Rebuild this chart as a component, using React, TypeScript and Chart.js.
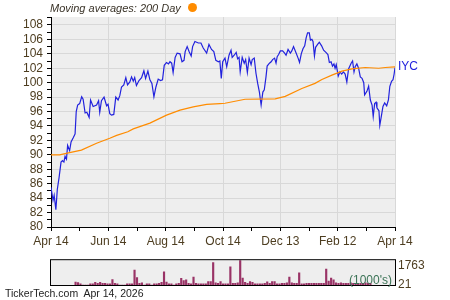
import React, { useEffect, useRef } from "react";
import { Chart, registerables } from "chart.js";

Chart.register(...registerables);

const FONT = "'Liberation Sans', Arial, sans-serif";
const TICK_COLOR = "#4d3d20";
const PRICE_COLOR = "#2222dd";
const MA_COLOR = "#ff8c00";
const VOLUME_COLOR = "#993366";

const symbol = "IYC";
const titleText = "Moving averages: 200 Day";
const footerText = "TickerTech.com  Apr 14, 2026";
const volumeUnitText = "(1000's)";

// x axis: months from the start (0 = Apr 14, 12 = Apr 14 next year)
const xTickLabels = ["Apr 14", "", "Jun 14", "", "Aug 14", "", "Oct 14", "", "Dec 13", "", "Feb 12", "", "Apr 14"];
const yTickValues = [80, 81, 82, 83, 84, 85, 86, 87, 88, 89, 90, 91, 92, 93, 94, 95, 96, 97, 98, 99, 100, 101, 102, 103, 104, 105, 106, 107, 108, 109];
const yMin = 80;
const yMax = 109.1;

const priceMonths = [
  0, 0.07, 0.11, 0.17, 0.22, 0.28, 0.35, 0.4, 0.45, 0.49,
  0.54, 0.58, 0.65, 0.7, 0.78, 0.84, 0.88, 0.93, 1.0, 1.07,
  1.12, 1.19, 1.25, 1.33, 1.38, 1.47, 1.59, 1.66, 1.7, 1.76,
  1.85, 1.94, 1.99, 2.05, 2.11, 2.19, 2.26, 2.34, 2.4, 2.46,
  2.54, 2.61, 2.67, 2.75, 2.81, 2.87, 2.92, 2.98, 3.07, 3.16,
  3.24, 3.3, 3.38, 3.45, 3.52, 3.59, 3.66, 3.74, 3.82, 3.89,
  3.95, 4.03, 4.1, 4.15, 4.21, 4.26, 4.33, 4.4, 4.5, 4.57,
  4.64, 4.68, 4.75, 4.82, 4.89, 4.94, 5.02, 5.14, 5.23, 5.31,
  5.43, 5.51, 5.6, 5.68, 5.75, 5.84, 5.89, 5.94, 5.99, 6.07,
  6.13, 6.21, 6.28, 6.32, 6.39, 6.46, 6.51, 6.56, 6.6, 6.67,
  6.74, 6.79, 6.85, 6.91, 6.98, 7.02, 7.09, 7.15, 7.21, 7.27,
  7.33, 7.39, 7.44, 7.5, 7.54, 7.62, 7.68, 7.73, 7.8, 7.85,
  7.89, 7.94, 8.0, 8.08, 8.15, 8.2, 8.27, 8.35, 8.4, 8.46,
  8.55, 8.62, 8.67, 8.73, 8.79, 8.85, 8.9, 8.95, 9.01, 9.05,
  9.1, 9.14, 9.19, 9.23, 9.3, 9.36, 9.44, 9.51, 9.59, 9.66,
  9.71, 9.77, 9.82, 9.87, 9.91, 9.95, 10.02, 10.08, 10.14, 10.2,
  10.26, 10.32, 10.38, 10.47, 10.52, 10.57, 10.61, 10.67, 10.73, 10.79,
  10.85, 10.91, 10.94, 11.02, 11.08, 11.14, 11.2, 11.24, 11.29, 11.34,
  11.37, 11.44, 11.47, 11.53, 11.58, 11.64, 11.71, 11.77, 11.82, 11.88,
  11.93, 11.97, 12.0,
];

const priceValues = [
  85.5, 83.7, 84.4, 82.4, 85.2, 86.8, 89.0, 89.2, 89.0, 89.8,
  89.4, 91.3, 90.6, 91.8, 92.4, 92.9, 96.0, 96.9, 97.1, 98.05,
  97.7, 95.8, 95.9, 95.2, 97.6, 96.7, 96.9, 97.5, 95.9, 97.5,
  98.0, 96.8, 97.0, 95.7, 95.5, 95.6, 98.0, 97.6, 98.2, 99.4,
  99.7, 100.7, 99.7, 100.1, 100.8, 100.2, 100.7, 99.6, 100.3, 100.7,
  101.65, 100.6, 101.6, 100.4, 99.9, 98.05, 99.4, 100.5, 100.3, 100.4,
  102.4, 102.8, 102.6, 102.9, 102.7, 101.4, 103.5, 104.1, 104.0, 102.9,
  103.1, 104.3, 105.0, 104.3, 103.7, 105.0, 105.7, 105.5, 105.5, 104.8,
  104.1, 105.3, 104.6, 104.3, 103.1, 102.9, 103.0, 100.6, 102.9, 103.4,
  102.2, 103.8, 104.5, 103.5, 103.8, 104.2, 103.3, 103.5, 101.5, 103.5,
  102.7, 103.2, 101.4, 103.4, 102.5, 103.2, 103.4, 101.3, 99.9, 98.7,
  96.9, 98.7, 99.0, 100.8, 102.3, 102.7, 102.9, 103.2, 103.4, 102.7,
  103.6, 103.9, 104.4, 104.4, 104.1, 103.8, 104.6, 104.1, 104.4, 105.0,
  104.1, 103.4, 102.8, 104.0, 104.7, 105.1, 106.2, 106.9, 106.9, 105.9,
  106.0, 105.7, 103.7, 104.9, 105.3, 105.6, 105.1, 104.5, 104.2, 103.9,
  102.8, 102.9, 102.3, 102.6, 102.0, 102.5, 100.9, 101.5, 101.2, 101.5,
  101.2, 100.1, 101.9, 102.7, 103.0, 101.5, 102.2, 102.6, 102.0, 100.8,
  100.6, 100.0, 98.3, 98.8, 99.5, 97.6, 96.9, 95.3, 97.1, 97.3,
  96.5, 96.1, 94.1, 95.5, 96.7, 97.2, 96.8, 97.6, 99.5, 100.2,
  100.4, 101.2, 102.1,
];

const maMonths = [0, 0.3, 0.65, 1.06, 1.59, 2.05, 2.29, 2.68, 2.87, 3.45, 4.03, 4.5, 4.96, 5.43, 5.89, 6.07, 6.77, 7.82, 8.17, 8.75, 9.21, 9.45, 9.8, 10.15, 10.5, 10.96, 11.43, 11.66, 12];
const maValues = [90.0, 90.0, 90.3, 90.65, 91.6, 92.3, 92.7, 93.2, 93.6, 94.4, 95.5, 96.2, 96.65, 97.0, 97.1, 97.15, 97.7, 97.75, 98.1, 99.2, 99.9, 100.45, 101.05, 101.6, 101.9, 102.1, 102.0, 102.1, 102.2];

// volume (1000's), one bar per tenth of a month
const volumeValues = [
  260, 230, 110, 0, 0, 0, 110, 110, 240, 160,
  240, 160, 160, 110, 110, 500, 150, 110, 0, 0,
  0, 110, 110, 110, 1370, 690, 160, 210, 0, 110,
  110, 0, 110, 110, 160, 240, 1210, 260, 110, 110,
  0, 110, 160, 610, 420, 470, 160, 110, 730, 160,
  110, 110, 110, 110, 320, 320, 2080, 200, 150, 320,
  110, 110, 110, 1685, 160, 160, 200, 2500, 630, 240,
  160, 320, 240, 110, 110, 110, 110, 160, 290, 160,
  320, 320, 110, 110, 160, 160, 200, 730, 210, 160,
  160, 1130, 110, 110, 160, 160, 160, 160, 160, 160,
  160, 160, 1477, 370, 630, 470, 200, 160, 200, 160,
  160, 160, 200, 160, 160, 160, 160, 160, 200, 160,
  160,
];
const volumeTickValues = [21, 1763];
const volumeMax = 2293;

export default function App() {
  const mainRef = useRef<HTMLCanvasElement>(null);
  const volRef = useRef<HTMLCanvasElement>(null);

  useEffect(() => {
    document.body.style.margin = "0";
    const tickFont = { family: FONT, size: 12 };

    const plotBg = {
      id: "plotBg",
      beforeDraw(chart: any) {
        const { ctx, chartArea: a } = chart;
        ctx.save();
        ctx.fillStyle = "#eeeeee";
        ctx.fillRect(a.left, a.top, a.right - a.left, a.bottom - a.top);
        ctx.restore();
      },
    };

    const symbolLabel = {
      id: "symbolLabel",
      afterDatasetsDraw(chart: any) {
        const { ctx, chartArea: a } = chart;
        const y = chart.scales.y.getPixelForValue(priceValues[priceValues.length - 1]);
        ctx.save();
        ctx.fillStyle = PRICE_COLOR;
        ctx.font = `12px ${FONT}`;
        ctx.textBaseline = "middle";
        ctx.textAlign = "left";
        ctx.fillText(symbol, a.right + 3, y - 1);
        ctx.restore();
      },
    };

    const main = new Chart(mainRef.current!, {
      type: "line",
      data: {
        datasets: [
          {
            data: maMonths.map((x, i) => ({ x, y: maValues[i] })),
            borderColor: MA_COLOR,
            borderWidth: 1.2,
            pointRadius: 0,
            tension: 0,
          },
          {
            data: priceMonths.map((x, i) => ({ x, y: priceValues[i] })),
            borderColor: PRICE_COLOR,
            borderWidth: 1.2,
            pointRadius: 0,
            tension: 0,
          },
        ],
      },
      options: {
        animation: false,
        responsive: false,
        maintainAspectRatio: false,
        layout: { padding: { top: 17, right: 55, left: 0, bottom: 0 } },
        plugins: { legend: { display: false }, tooltip: { enabled: false } },
        scales: {
          x: {
            type: "linear",
            min: 0,
            max: 12,
            afterBuildTicks: (s: any) => {
              s.ticks = xTickLabels.map((_, i) => ({ value: i }));
            },
            afterFit: (s: any) => {
              s.height = 23;
            },
            ticks: {
              autoSkip: false,
              maxRotation: 0,
              color: TICK_COLOR,
              font: tickFont,
              padding: 3,
              callback: (v: any) => xTickLabels[Math.round(Number(v))] ?? "",
            },
            grid: {
              color: (ctx: any) =>
                ctx.tick && xTickLabels[Math.round(ctx.tick.value)] ? "#d8d8d8" : "rgba(0,0,0,0)",
              tickColor: "#000",
              tickLength: 4,
              lineWidth: 1,
            },
            border: { display: true, color: "#000", width: 1 },
          },
          y: {
            type: "linear",
            min: yMin,
            max: yMax,
            afterBuildTicks: (s: any) => {
              s.ticks = yTickValues.map((v) => ({ value: v }));
            },
            afterFit: (s: any) => {
              s.width = 51;
            },
            ticks: {
              autoSkip: false,
              color: TICK_COLOR,
              font: tickFont,
              padding: 4,
              callback: (v: any) => (Number(v) % 2 === 0 ? String(v) : ""),
            },
            grid: {
              color: (ctx: any) =>
                ctx.tick && ctx.tick.value % 2 === 0 ? "#d8d8d8" : "rgba(0,0,0,0)",
              tickColor: "#000",
              tickLength: 4,
              lineWidth: 1,
            },
            border: { display: true, color: "#000", width: 1 },
          },
        },
      },
      plugins: [plotBg, symbolLabel],
    } as any);

    const panelBorder = {
      id: "panelBorder",
      afterDraw(chart: any) {
        const { ctx, chartArea: a } = chart;
        ctx.save();
        ctx.strokeStyle = "#000";
        ctx.lineWidth = 1;
        ctx.strokeRect(a.left - 0.5, a.top - 0.5, a.right - a.left + 1, a.bottom - a.top + 1);
        ctx.restore();
      },
    };

    const vol = new Chart(volRef.current!, {
      type: "bar",
      data: {
        datasets: [
          {
            data: volumeValues.map((v, i) => ({ x: i / 10, y: v })),
            backgroundColor: VOLUME_COLOR,
            barThickness: 1.5,
            grouped: false,
          },
        ],
      },
      options: {
        animation: false,
        responsive: false,
        maintainAspectRatio: false,
        layout: { padding: { top: 6, right: 0, left: 51, bottom: 15 } },
        plugins: { legend: { display: false }, tooltip: { enabled: false } },
        scales: {
          x: { type: "linear", min: 0, max: 12, display: false },
          y: {
            position: "right",
            min: 0,
            max: volumeMax,
            afterBuildTicks: (s: any) => {
              s.ticks = volumeTickValues.map((v) => ({ value: v }));
            },
            afterFit: (s: any) => {
              s.width = 55;
            },
            ticks: {
              autoSkip: false,
              color: TICK_COLOR,
              font: tickFont,
              padding: 3,
              callback: (v: any) => String(v),
            },
            grid: { display: false, drawTicks: false },
            border: { display: false },
          },
        },
      },
      plugins: [plotBg, panelBorder],
    } as any);

    return () => {
      main.destroy();
      vol.destroy();
    };
  }, []);

  return (
    <div style={{ position: "relative", width: 450, height: 300, overflow: "hidden", background: "#fff", fontFamily: FONT }}>
      <canvas ref={mainRef} width={450} height={250} style={{ position: "absolute", left: 0, top: 0, width: 450, height: 250 }} />
      <canvas ref={volRef} width={450} height={50} style={{ position: "absolute", left: 0, top: 250, width: 450, height: 50 }} />
      <div style={{ position: "absolute", left: 50, top: 2.5, fontSize: 11, lineHeight: "11px", fontStyle: "italic", color: "#3a3328", whiteSpace: "pre" }}>
        {titleText}
      </div>
      <div style={{ position: "absolute", left: 187.5, top: 2.5, width: 9, height: 9, borderRadius: "50%", background: MA_COLOR }} />
      <div style={{ position: "absolute", right: 58, top: 274, fontSize: 12, lineHeight: "12px", color: "#3b7356", whiteSpace: "pre" }}>
        {volumeUnitText}
      </div>
      <div style={{ position: "absolute", left: 5, top: 288, fontSize: 10.5, lineHeight: "11px", color: "#222", whiteSpace: "pre" }}>
        {footerText}
      </div>
    </div>
  );
}
